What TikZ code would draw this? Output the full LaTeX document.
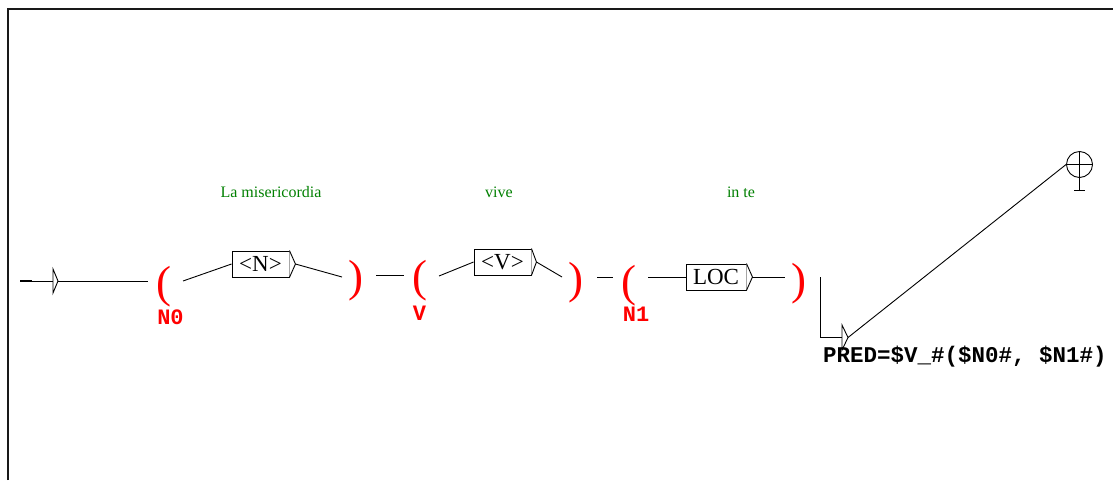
\documentclass[tikz,border=0pt]{standalone}
\usepackage{fontspec}
\setmainfont{Liberation Serif}
\newfontfamily\monob{Liberation Mono}
\definecolor{glossgreen}{RGB}{0,128,0}
\begin{document}
\begin{tikzpicture}[x=1pt,y=-1pt,
  ln/.style={draw=black, line width=0.9pt},
  paren/.style={inner sep=0pt, anchor=base, text=red, font=\fontsize{45}{50}\selectfont},
  varlbl/.style={inner sep=0pt, anchor=base, text=red, font=\monob\bfseries\fontsize{22}{25}\selectfont},
  outlbl/.style={inner sep=0pt, anchor=base west, text=black, font=\monob\bfseries\fontsize{22.5}{25}\selectfont},
  gloss/.style={inner sep=0pt, anchor=base, text=glossgreen, font=\fontsize{16}{18}\selectfont},
  boxnode/.style={draw=black, line width=0.9pt, fill=white, inner sep=0pt, font=\fontsize{23}{26}\selectfont, minimum height=26pt},
  tipshape/.style={draw=black, line width=0.9pt, fill=white},
]
\useasboundingbox (0,0) rectangle (1113,480);
\fill[white] (0,0) rectangle (1113,480);
% frame
\draw[line width=2pt, black!90] (8,480) -- (8,9) -- (1113,9);

% glosses
\node[gloss] (g1) at (271,197) {La misericordia};
\node[gloss] (g2) at (499,197) {vive};
\node[gloss] (g3) at (741,197) {in te};

% initial state
\coordinate (s0) at (20,281);
\coordinate (s1) at (32,281);
\coordinate (s2) at (53,281);
\draw[line width=2.2pt] (s0) -- (s1);
\draw[ln] (s1) -- (s2);
\draw[tipshape] (53,269) -- (58,281) coordinate (iTip) -- (53,293) -- cycle;

% parentheses
\node[paren] (o1) at (164,297) {(};
\node[paren] (c1) at (355.5,291) {)};
\node[paren] (o2) at (420,291) {(};
\node[paren] (c2) at (576,293) {)};
\node[paren] (o3) at (629,296) {(};
\node[paren] (c3) at (799,294) {)};

% variable labels
\node[varlbl] (l1) at (170.5,324) {N0};
\node[varlbl] (l2) at (419.5,320) {V};
\node[varlbl] (l3) at (636,321) {N1};

% boxes
\node[boxnode, minimum width=57pt] (bN) at (260.5,264) {<N>};
\node[boxnode, minimum width=57pt] (bV) at (502.5,262) {<V>};
\node[boxnode, minimum width=60pt] (bL) at (716,277) {LOC};
\draw[tipshape] (bN.north east) -- ([xshift=6pt]bN.east) coordinate (tN) -- (bN.south east);
\draw[tipshape] (bV.north east) -- ([xshift=5pt]bV.east) coordinate (tV) -- (bV.south east);
\draw[tipshape] (bL.north east) -- ([xshift=6pt]bL.east) coordinate (tL) -- (bL.south east);

% connector end points near parentheses
\coordinate (a1) at (148,281);
\coordinate (a2) at (183,281);
\coordinate (a3) at (342,277);
\coordinate (a4) at (376,275);
\coordinate (a5) at (404,275);
\coordinate (a6) at (439,276);
\coordinate (a7) at (562,277);
\coordinate (a8) at (597,277);
\coordinate (a9) at (613,277);
\coordinate (a10) at (648,277);
\coordinate (a11) at (785,277);
\coordinate (a12) at (820,277);
\coordinate (a13) at (820,337);
\coordinate (fS) at (842,337);

\draw[ln] (iTip) -- (a1);
\draw[ln] (a2) -- (bN.west);
\draw[ln] (tN) -- (a3);
\draw[ln] (a4) -- (a5);
\draw[ln] (a6) -- (bV.west);
\draw[ln] (tV) -- (a7);
\draw[ln] (a8) -- (a9);
\draw[ln] (a10) -- (bL.west);
\draw[ln] (tL) -- (a11);
\draw[ln] (a12) -- (a13) -- (fS);

% output triangle
\draw[tipshape] (842,325) -- (848,337.5) coordinate (fT) -- (842,350) -- cycle;

% final state
\node[circle, draw=black, line width=0.9pt, minimum size=26pt, inner sep=0pt] (fin) at (1079.5,164.5) {};
\draw[ln] (fin.west) -- (fin.east);
\coordinate (finb) at (1079.5,190);
\draw[ln] (fin.north) -- (finb);
\draw[ln] ([xshift=-5.5pt]finb) -- ([xshift=5.5pt]finb);
\draw[ln] (fT) -- (fin.west);

% output text
\node[outlbl] (out) at (823,362) {PRED=\$V\_\#(\$N0\#, \$N1\#)};
\end{tikzpicture}
\end{document}
